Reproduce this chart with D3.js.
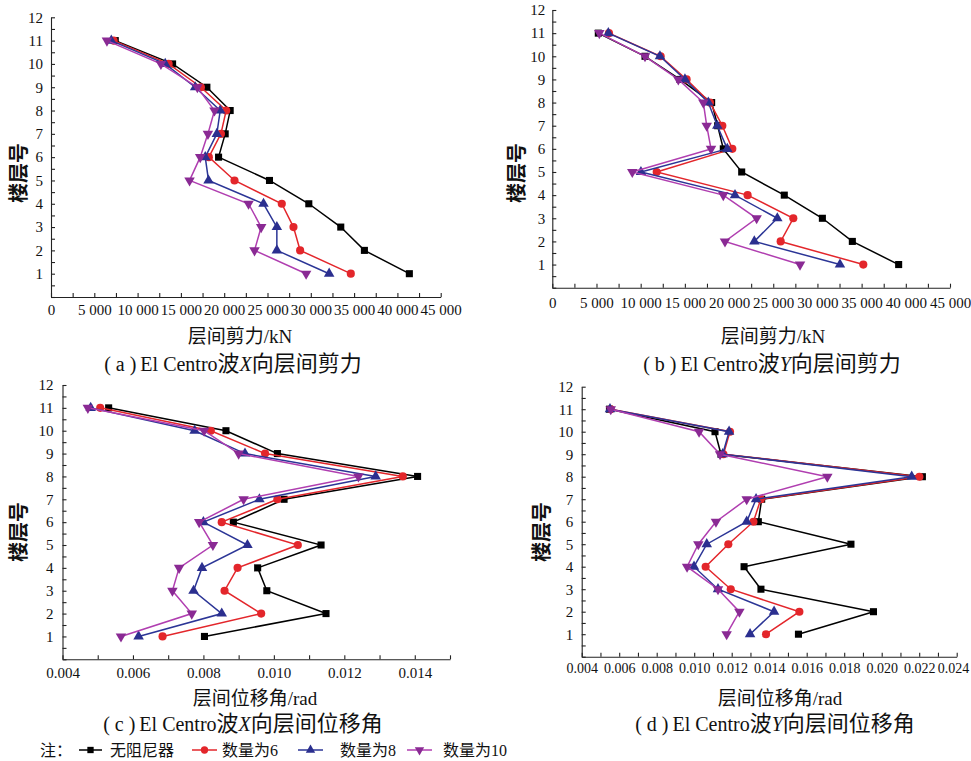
<!DOCTYPE html>
<html>
<head>
<meta charset="utf-8">
<script src="https://cdn.jsdelivr.net/npm/d3@7/dist/d3.min.js"></script>
<style>
  body { margin: 0; background: #fff; }
  svg { display: block; }
  text { font-family: "Liberation Serif", "Noto Sans CJK SC", serif; fill: #111; }
</style>
</head>
<body>
<svg id="chart" width="971" height="761"></svg>
<script>
// floors 1..11, every series listed bottom floor first
var floors = [1, 2, 3, 4, 5, 6, 7, 8, 9, 10, 11];
var seriesNames = ["无阻尼器", "数量为6", "数量为8", "数量为10"];

// (a) X shear, kN
var shearX_none = [41380, 36190, 33460, 29770, 25230, 19350, 20115, 20690, 18000, 14040, 7420];
var shearX_6    = [34620, 28770, 28000, 26650, 21190, 18230, 19620, 20230, 17310, 13580, 7230];
var shearX_8    = [32120, 26080, 26080, 24540, 18190, 17810, 19150, 19540, 16650, 13190, 6960];
var shearX_10   = [29460, 23500, 24270, 22810, 16000, 17230, 18120, 18880, 16900, 12690, 6460];

// (b) Y shear, kN
var shearY_none = [39190, 33950, 30560, 26250, 21430, 19350, 18710, 18030, 14450, 10490, 5206];
var shearY_6    = [35190, 25840, 27270, 22100, 11810, 20370, 19240, 17840, 15200, 12260, 6410];
var shearY_8    = [32550, 22860, 25460, 20670, 10030, 19800, 18670, 17650, 15010, 12180, 6340];
var shearY_10   = [28030, 19540, 23120, 19350, 9050, 17960, 17470, 17090, 14260, 10490, 5320];

// (c) X drift, rad
var driftX_none = [0.00803, 0.01148, 0.00980, 0.00954, 0.01134, 0.00885, 0.01029, 0.01408, 0.01010, 0.00864, 0.00531];
var driftX_6    = [0.00684, 0.00964, 0.00860, 0.00897, 0.01068, 0.00852, 0.01010, 0.01366, 0.00975, 0.00821, 0.00507];
var driftX_8    = [0.00616, 0.00852, 0.00772, 0.00796, 0.00925, 0.00800, 0.00959, 0.01289, 0.00918, 0.00775, 0.00480];
var driftX_10   = [0.00566, 0.00767, 0.00712, 0.00731, 0.00827, 0.00788, 0.00914, 0.01240, 0.00900, 0.00802, 0.00472];

// (d) Y drift, rad
var driftY_none = [0.01556, 0.01956, 0.01356, 0.01266, 0.01836, 0.01342, 0.01360, 0.02217, 0.01143, 0.01111, 0.00548];
var driftY_6    = [0.01383, 0.01561, 0.01195, 0.01061, 0.01182, 0.01316, 0.01355, 0.02201, 0.01156, 0.01191, 0.00555];
var driftY_8    = [0.01298, 0.01426, 0.01127, 0.00999, 0.01067, 0.01280, 0.01330, 0.02160, 0.01152, 0.01186, 0.00551];
var driftY_10   = [0.01173, 0.01241, 0.01127, 0.00962, 0.01022, 0.01116, 0.01280, 0.01710, 0.01138, 0.01026, 0.00555];

var lineColors = ["#000000", "#e3262b", "#2b3596", "#b03eb0"];
var markColors = ["#000000", "#e3262b", "#2b2f8f", "#8a2a94"];
var markTypes = [d3.symbolSquare, d3.symbolCircle, d3.symbolTriangle, d3.symbolTriangle];
var markSizes = [50, 52, 48, 48];

var spaceFmt = d3.formatLocale({decimal: ".", thousands: " ", grouping: [3], currency: ["", ""]}).format(",");
var radFmt = d3.format(".3f");

var panels = [
  {series: [shearX_none, shearX_6, shearX_8, shearX_10], dom: [0, 45000], step: 2500, major: 5000, fmt: spaceFmt,
   l: 51, r: 440.7, t: 17.3, b: 297, xpad: 7, ypad: 8, xfs: 15, ytx: 19, yty: 173, xtx: 240, xty: 336,
   xtitle: "层间剪力/kN", cap: ["( a )", "El Centro", "波", "X", "向层间剪力"], capx: 233, capy: 364},
  {series: [shearY_none, shearY_6, shearY_8, shearY_10], dom: [0, 45000], step: 2500, major: 5000, fmt: spaceFmt,
   l: 552.3, r: 950, t: 10, b: 287.7, xpad: 10, ypad: 7, xfs: 15, ytx: 517, yty: 173, xtx: 773, xty: 336,
   xtitle: "层间剪力/kN", cap: ["( b )", "El Centro", "波", "Y", "向层间剪力"], capx: 772, capy: 364},
  {series: [driftX_none, driftX_6, driftX_8, driftX_10], dom: [0.004, 0.015], step: 0.001, major: 0.002, fmt: radFmt,
   l: 62.5, r: 450, t: 385, b: 659.3, xpad: 8, ypad: 9, xfs: 15, ytx: 19, yty: 532, xtx: 255, xty: 698,
   xtitle: "层间位移角/rad", cap: ["( c )", "El Centro", "波", "X", "向层间位移角"], capx: 243, capy: 724},
  {series: [driftY_none, driftY_6, driftY_8, driftY_10], dom: [0.004, 0.024], step: 0.001, major: 0.002, fmt: radFmt,
   l: 581.7, r: 956.7, t: 386.7, b: 656.7, xpad: 6, ypad: 8.5, xfs: 14, ytx: 542, yty: 532, xtx: 780, xty: 698,
   xtitle: "层间位移角/rad", cap: ["( d )", "El Centro", "波", "Y", "向层间位移角"], capx: 775, capy: 724}
];

var svg = d3.select("#chart");

function isMajor(v, p) {
  var k = (v - p.dom[0]) / p.major;
  return Math.abs(k - Math.round(k)) < 1e-6;
}

panels.forEach(function(p) {
  var x = d3.scaleLinear().domain(p.dom).range([p.l, p.r]);
  var y = d3.scaleLinear().domain([0, 12]).range([p.b, p.t]);

  var n = Math.round((p.dom[1] - p.dom[0]) / p.step);
  var xticks = d3.range(n + 1).map(function(i) { return p.dom[0] + i * p.step; });
  var yticks = d3.range(25).map(function(i) { return i / 2; });

  var xAxis = d3.axisBottom(x).tickValues(xticks).tickSizeInner(-4).tickSizeOuter(0).tickPadding(p.xpad)
    .tickFormat(function(d) { return isMajor(d, p) ? p.fmt(+d.toFixed(4)) : ""; });
  var yAxis = d3.axisLeft(y).tickValues(yticks).tickSizeInner(-4).tickSizeOuter(0).tickPadding(p.ypad)
    .tickFormat(function(d) { return (d > 0 && d % 1 === 0) ? d : ""; });

  var gx = svg.append("g").attr("transform", "translate(0," + p.b + ")").call(xAxis);
  var gy = svg.append("g").attr("transform", "translate(" + p.l + ",0)").call(yAxis);
  [gx, gy].forEach(function(g) {
    g.selectAll("path, line").attr("stroke", "#222").attr("stroke-width", 1.1);
    g.selectAll("text").attr("font-size", 15).attr("fill", "#111")
      .style("font-family", "'Liberation Serif', serif");
  });
  gx.selectAll("text").attr("font-size", p.xfs);
  // last label squeezed in against the page edge, like the original
  if (p.r > 950) {
    gx.selectAll(".tick").filter(function(d) { return Math.abs(d - p.dom[1]) < 1e-9; })
      .select("text").attr("text-anchor", "end").attr("dx", 12);
  }

  var line = d3.line().x(function(d) { return x(d[0]); }).y(function(d) { return y(d[1]); });

  p.series.forEach(function(vals, si) {
    var pts = vals.map(function(v, i) { return [v, floors[i]]; });
    svg.append("path").datum(pts)
      .attr("d", line)
      .attr("fill", "none")
      .attr("stroke", lineColors[si])
      .attr("stroke-width", 1.5);
    svg.append("g").selectAll("path").data(pts).enter().append("path")
      .attr("d", d3.symbol().type(markTypes[si]).size(markSizes[si]))
      .attr("fill", markColors[si])
      .attr("transform", function(d) {
        return "translate(" + x(d[0]) + "," + y(d[1]) + ")" + (si === 3 ? " rotate(180)" : "");
      });
  });

  svg.append("text")
    .attr("transform", "translate(" + p.ytx + "," + p.yty + ") rotate(-90)")
    .attr("text-anchor", "middle").attr("dy", "0.35em")
    .attr("font-size", 20).attr("font-weight", "bold")
    .text("楼层号");

  svg.append("text")
    .attr("x", p.xtx).attr("y", p.xty).attr("dy", "0.35em")
    .attr("text-anchor", "middle").attr("font-size", 19)
    .text(p.xtitle);

  var cap = svg.append("text")
    .attr("x", p.capx).attr("y", p.capy).attr("dy", "0.35em")
    .attr("text-anchor", "middle").attr("font-size", 20);
  cap.append("tspan").text(p.cap[0] + "\u2009");
  cap.append("tspan").text(p.cap[1]);
  cap.append("tspan").attr("font-size", 22).text(p.cap[2]);
  cap.append("tspan").attr("font-style", "italic").text(p.cap[3]);
  cap.append("tspan").attr("font-size", 22).text(p.cap[4]);
});

// legend along the bottom
var legY = 750;
var legLines = [[79, 102], [192, 217], [298, 323], [407, 432]];
var legText = [110, 222, 340, 443];

svg.append("text").attr("x", 40).attr("y", legY).attr("dy", "0.35em")
  .attr("font-size", 16).text("注：");

seriesNames.forEach(function(name, si) {
  var a = legLines[si][0], b = legLines[si][1];
  svg.append("line")
    .attr("x1", a).attr("x2", b).attr("y1", legY).attr("y2", legY)
    .attr("stroke", lineColors[si]).attr("stroke-width", 1.5);
  svg.append("path")
    .attr("d", d3.symbol().type(markTypes[si]).size(markSizes[si] * 0.8))
    .attr("fill", markColors[si])
    .attr("transform", "translate(" + (a + b) / 2 + "," + legY + ")" + (si === 3 ? " rotate(180)" : ""));
  svg.append("text").attr("x", legText[si]).attr("y", legY).attr("dy", "0.35em")
    .attr("font-size", 16).text(name);
});
</script>
</body>
</html>
